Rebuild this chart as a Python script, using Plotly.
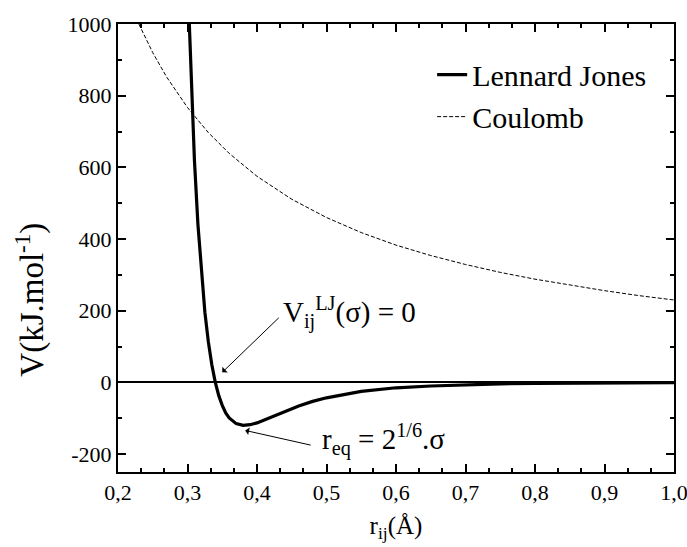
import plotly.graph_objects as go

# Lennard-Jones potential (V in kJ/mol)
lj_r = [0.300, 0.305, 0.310, 0.315, 0.320, 0.325, 0.330, 0.335, 0.340, 0.345,
        0.350, 0.355, 0.360, 0.370, 0.380, 0.390, 0.400, 0.420, 0.440, 0.460,
        0.480, 0.500, 0.550, 0.600, 0.650, 0.700, 0.750, 0.800, 0.850, 0.900,
        0.950, 1.000]
lj_v = [1135, 846, 619, 441, 303, 196, 113, 49, 0, -37,
        -64, -85, -99, -115, -120, -118, -113, -97, -80, -66,
        -53, -43, -25, -15, -10, -6, -4, -3, -2, -1.4,
        -1.0, -0.7]

# Coulomb potential
coul_r = [0.23, 0.24, 0.25, 0.27, 0.30, 0.33, 0.36, 0.40, 0.45, 0.50,
          0.55, 0.60, 0.65, 0.70, 0.75, 0.80, 0.85, 0.90, 0.95, 1.00]
coul_v = [1000, 958, 920, 852, 767, 697, 639, 575, 511, 460,
          418, 383, 354, 329, 307, 288, 271, 256, 242, 230]

y_ticks = [-200, 0, 200, 400, 600, 800, 1000]
y_tick_text = ["-200", "0", "200", "400", "600", "800", "1000"]
x_ticks = [0.2, 0.3, 0.4, 0.5, 0.6, 0.7, 0.8, 0.9, 1.0]
x_tick_text = ["0,2", "0,3", "0,4", "0,5", "0,6", "0,7", "0,8", "0,9", "1,0"]

FONT = "Liberation Serif"

fig = go.Figure()
fig.add_trace(go.Scatter(x=lj_r, y=lj_v, mode="lines", name="Lennard Jones",
                         line=dict(color="black", width=3.2)))
fig.add_trace(go.Scatter(x=coul_r, y=coul_v, mode="lines", name="Coulomb",
                         line=dict(color="black", width=1, dash="4px,2px")))

axis_common = dict(
    showline=True, linecolor="black", linewidth=2, mirror="ticks",
    ticks="inside", ticklen=8, tickwidth=2, tickcolor="black",
    showgrid=False, tickfont=dict(family=FONT, size=22, color="black"),
    ticklabeloverflow="allow", automargin=False,
)

fig.update_xaxes(range=[0.2, 1.0000001], tickvals=x_ticks, ticktext=x_tick_text,
                 zeroline=False,
                 minor=dict(ticks="inside", ticklen=4, tickwidth=2, tickcolor="black",
                            tick0=0.2, dtick=0.1 / 3, showgrid=False),
                 title=dict(text="r<sub>ij</sub>(Å)", font=dict(family=FONT, size=25, color="black"),
                            standoff=12),
                 **axis_common)
fig.update_yaxes(range=[-250, 1000], tickvals=y_ticks, ticktext=y_tick_text,
                 zeroline=True, zerolinecolor="black", zerolinewidth=1.5,
                 minor=dict(ticks="inside", ticklen=4, tickwidth=2, tickcolor="black",
                            tick0=0, dtick=100, showgrid=False),
                 **axis_common)

# y-axis title (placed slightly below plot centre as in the reference)
fig.add_annotation(x=-0.158, y=0.385, xref="paper", yref="paper", showarrow=False,
                   textangle=-90, xanchor="center", yanchor="middle",
                   text="V(kJ.mol<sup>-1</sup>)",
                   font=dict(family=FONT, size=33, color="black"))

# annotations: arrows
fig.add_annotation(x=0.35, y=28, xref="x", yref="y", text="", showarrow=True,
                   ax=58, ay=-56, arrowhead=1, arrowsize=1.3, arrowwidth=1, arrowcolor="black")
fig.add_annotation(x=0.383, y=-134, xref="x", yref="y", text="", showarrow=True,
                   ax=67, ay=15, arrowhead=1, arrowsize=1.3, arrowwidth=1, arrowcolor="black")
# annotation texts
fig.add_annotation(x=0.435, y=195, xref="x", yref="y", showarrow=False, xanchor="left", yanchor="middle",
                   text="V<sub>ij</sub><sup>LJ</sup>(σ) = 0",
                   font=dict(family=FONT, size=29, color="black"))
fig.add_annotation(x=0.49, y=-160, xref="x", yref="y", showarrow=False, xanchor="left", yanchor="middle",
                   text="r<sub>eq</sub> = 2<sup>1/6</sup>.σ",
                   font=dict(family=FONT, size=29, color="black"))

fig.update_layout(
    width=687, height=547,
    margin=dict(l=118, r=13, t=24, b=75, autoexpand=False),
    paper_bgcolor="white", plot_bgcolor="white",
    font=dict(family=FONT, color="black"),
    showlegend=True,
    legend=dict(x=0.565, y=0.945, xanchor="left", yanchor="top",
                font=dict(family=FONT, size=30, color="black"),
                bgcolor="rgba(0,0,0,0)", borderwidth=0, tracegroupgap=0,
                itemwidth=30),
)

fig.write_html("out.html")
